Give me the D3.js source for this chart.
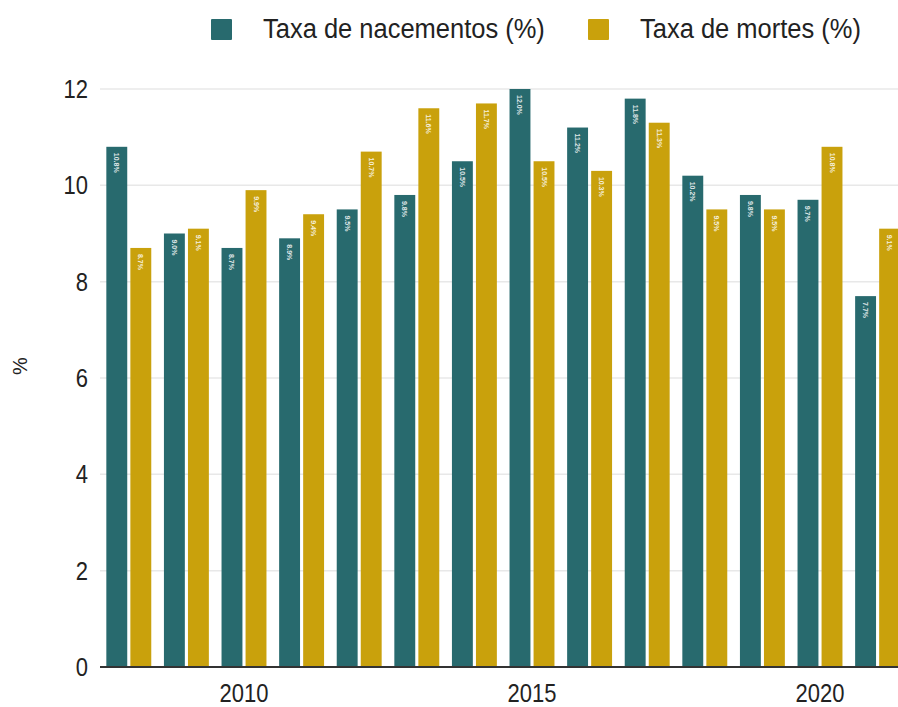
<!DOCTYPE html>
<html>
<head>
<meta charset="utf-8">
<script src="https://cdn.jsdelivr.net/npm/d3@7"></script>
<style>
  body { margin: 0; background: #fff; }
  svg { display: block; font-family: "Liberation Sans", Arial, sans-serif; }
</style>
</head>
<body>
<div id="chart"></div>
<script>
// Datos
const years      = [2008, 2009, 2010, 2011, 2012, 2013, 2014, 2015, 2016, 2017, 2018, 2019, 2020, 2021];
const births     = [10.8, 9.0, 8.7, 8.9, 9.5, 9.8, 10.5, 12.0, 11.2, 11.8, 10.2, 9.8, 9.7, 7.7];
const deaths     = [8.7, 9.1, 9.9, 9.4, 10.7, 11.6, 11.7, 10.5, 10.3, 11.3, 9.5, 9.5, 10.8, 9.1];
const seriesNames = ['Taxa de nacementos (%)', 'Taxa de mortes (%)'];
const yTicks     = [0, 2, 4, 6, 8, 10, 12];
const xTickYears = [2010, 2015, 2020];

const colors = ['#286a6e', '#c9a10c'];

const W = 898, H = 707;
const x0 = 100, yBase = 667, yTop = 89;

const svg = d3.select('#chart').append('svg')
    .attr('width', W).attr('height', H);

const x = d3.scaleBand()
    .domain(years)
    .range([x0, x0 + years.length * 57.6])
    .paddingInner(0.22).paddingOuter(0.11);

const xs = d3.scaleBand()
    .domain([0, 1])
    .range([0, x.bandwidth()])
    .paddingInner(0.13);

const y = d3.scaleLinear().domain([0, 12]).range([yBase, yTop]);

// ── Rejilla ──────────────────────────────────────────────
svg.append('g')
    .selectAll('line').data(yTicks.filter(d => d > 0)).join('line')
    .attr('x1', x0).attr('x2', W)
    .attr('y1', d => y(d)).attr('y2', d => y(d))
    .attr('stroke', '#e8e8e8').attr('stroke-width', 1.5);

// Etiquetas eje Y
svg.append('g')
    .selectAll('text').data(yTicks).join('text')
    .attr('transform', d => `translate(88,${y(d) + 9}) scale(1,1.15)`)
    .attr('text-anchor', 'end')
    .style('font-size', '22px').style('fill', '#222')
    .text(d => d);

svg.append('text')
    .attr('transform', `translate(27,${(yBase + yTop) / 2 - 12}) rotate(-90)`)
    .attr('text-anchor', 'middle')
    .style('font-size', '20px').style('fill', '#222')
    .text('%');

// ── Barras ───────────────────────────────────────────────
const rows = years.map((yr, i) => ({ year: yr, vals: [births[i], deaths[i]] }));

const groups = svg.append('g').selectAll('g').data(rows).join('g')
    .attr('transform', d => `translate(${x(d.year)},0)`);

const bars = groups.selectAll('g').data(d => d.vals.map((v, k) => ({ k, v }))).join('g');

bars.append('rect')
    .attr('x', d => xs(d.k))
    .attr('y', d => y(d.v))
    .attr('width', xs.bandwidth())
    .attr('height', d => yBase - y(d.v))
    .attr('fill', d => colors[d.k]);

bars.append('text')
    .attr('transform', d => `translate(${xs(d.k) + xs.bandwidth() / 2 - 2.5},${y(d.v) + 6}) rotate(90)`)
    .style('font-size', '7px').style('fill', '#fff').style('font-weight', 'bold')
    .style('opacity', 0.85)
    .text(d => d.v.toFixed(1) + '%');

// Línea base
svg.append('line')
    .attr('x1', x0).attr('x2', W)
    .attr('y1', yBase).attr('y2', yBase)
    .attr('stroke', '#333').attr('stroke-width', 2);

// Etiquetas eje X
svg.append('g')
    .selectAll('text').data(xTickYears).join('text')
    .attr('transform', d => `translate(${x(d) + x.bandwidth() / 2},702) scale(1,1.15)`)
    .attr('text-anchor', 'middle')
    .style('font-size', '22px').style('fill', '#222')
    .text(d => d);

// ── Leyenda ──────────────────────────────────────────────
const legendX = [211, 588];
const legend = svg.append('g').selectAll('g').data(seriesNames).join('g')
    .attr('transform', (d, i) => `translate(${legendX[i]},19)`);

legend.append('rect')
    .attr('width', 21).attr('height', 21).attr('rx', 1)
    .attr('fill', (d, i) => colors[i]);

legend.append('text')
    .attr('transform', 'translate(52,19) scale(1,1.05)')
    .style('font-size', '25.5px').style('fill', '#222')
    .text(d => d);
</script>
</body>
</html>
